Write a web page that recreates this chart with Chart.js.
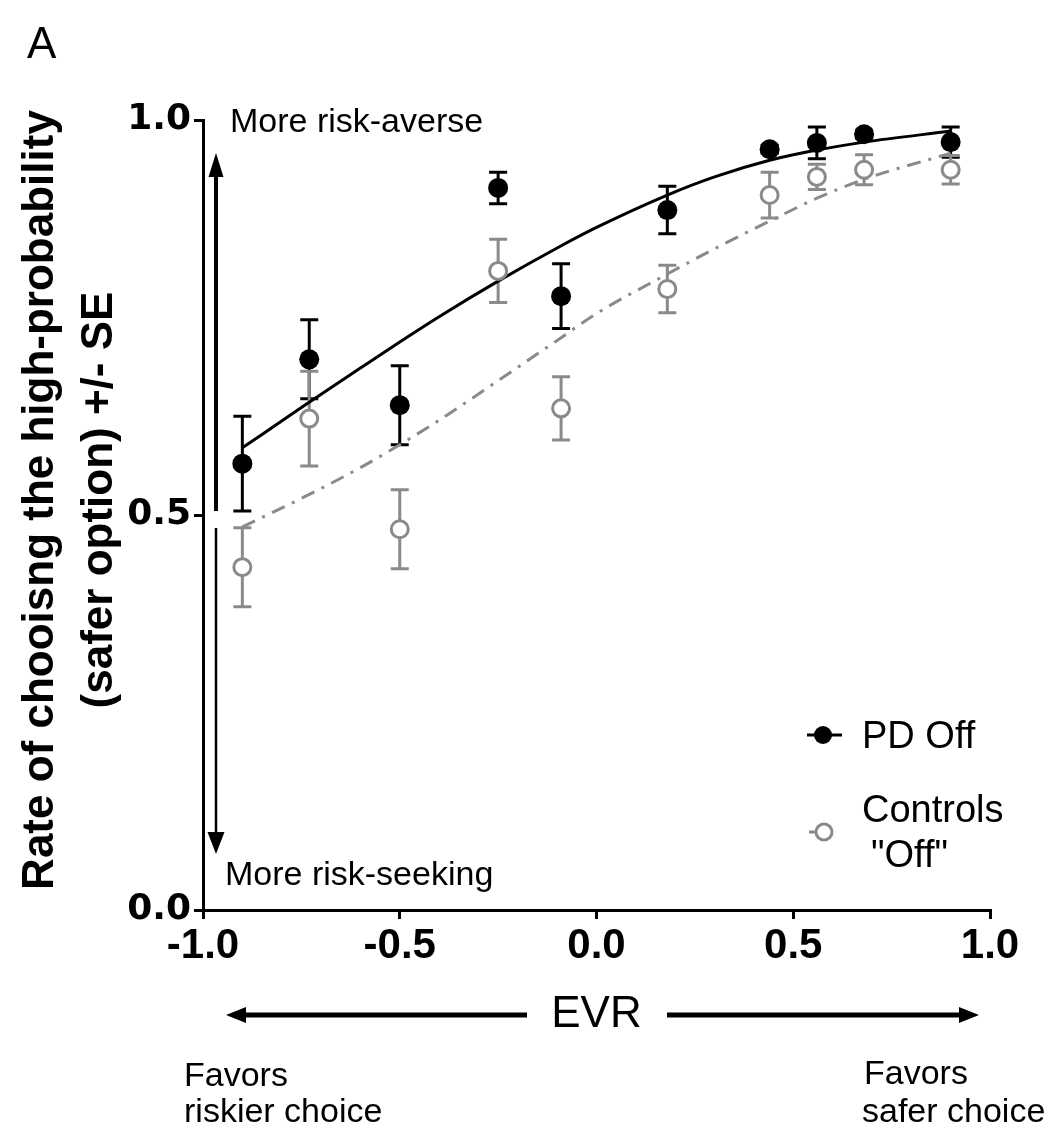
<!DOCTYPE html>
<html>
<head>
<meta charset="utf-8">
<title>EVR – rate of choosing the safer option</title>
<script src="https://cdn.jsdelivr.net/npm/chart.js@4.4.1/dist/chart.umd.min.js"></script>
<style>
  html, body { margin: 0; padding: 0; background: #fff; }
  #wrap { width: 1058px; height: 1126px; }
</style>
</head>
<body>
<div id="wrap"><canvas id="chart" width="1058" height="1126"></canvas></div>
<script>
/* ---- Data ---- */
const evr      = [-0.9, -0.73, -0.5, -0.25, -0.09, 0.18, 0.44, 0.56, 0.68, 0.9];
const pdMean   = [0.565, 0.697, 0.639, 0.914, 0.777, 0.886, 0.963, 0.971, 0.982, 0.972];
const pdSE     = [0.06, 0.05, 0.05, 0.02, 0.041, 0.03, 0.005, 0.02, 0.005, 0.019];
const ctrlMean = [0.434, 0.622, 0.482, 0.809, 0.635, 0.786, 0.905, 0.928, 0.937, 0.937];
const ctrlSE   = [0.05, 0.06, 0.05, 0.04, 0.04, 0.03, 0.029, 0.016, 0.019, 0.018];

/* fitted curves */
const fitX     = [-0.9, -0.75, -0.6, -0.5, -0.4, -0.25, -0.1, 0, 0.18, 0.3, 0.44, 0.56, 0.68, 0.9];
const pdFit    = [0.585, 0.636, 0.686, 0.719, 0.751, 0.796, 0.838, 0.864, 0.905, 0.928, 0.949, 0.962, 0.972, 0.986];
const ctrlFit  = [0.485, 0.521, 0.560, 0.589, 0.620, 0.670, 0.721, 0.755, 0.805, 0.837, 0.872, 0.901, 0.925, 0.958];

const xTicks   = [-1.0, -0.5, 0.0, 0.5, 1.0];
const yTicks   = [0.0, 0.5, 1.0];
const seriesNames = ["PD Off", "Controls \"Off\""];

(function () {
  "use strict";

  const BLACK = "#000";
  const GREY  = "#8a8a8a";
  const SANS  = "'Liberation Sans', Arial, sans-serif";

  const pts = (xs, ys) => xs.map((x, i) => ({ x: x, y: ys[i] }));

  /* ---- Error bars, drawn through the chart's own scales ---- */
  const errorBars = {
    id: "errorBars",
    beforeDatasetsDraw(chart) {
      const { ctx, scales: { x, y } } = chart;
      const sets = [
        { m: pdMean, se: pdSE, color: BLACK },
        { m: ctrlMean, se: ctrlSE, color: GREY }
      ];
      ctx.save();
      ctx.lineWidth = 3;
      sets.forEach(s => {
        ctx.strokeStyle = s.color;
        evr.forEach((v, i) => {
          const px = x.getPixelForValue(v);
          const top = y.getPixelForValue(s.m[i] + s.se[i]);
          const bot = y.getPixelForValue(s.m[i] - s.se[i]);
          ctx.beginPath();
          ctx.moveTo(px, top); ctx.lineTo(px, bot);
          ctx.moveTo(px - 9, top); ctx.lineTo(px + 9, top);
          ctx.moveTo(px - 9, bot); ctx.lineTo(px + 9, bot);
          ctx.stroke();
        });
      });
      ctx.restore();
    }
  };

  /* ---- Annotations: arrows, notes, legend, y title ---- */
  function arrowHead(ctx, x, y, dir, half, len) {
    ctx.beginPath();
    if (dir === "up")    { ctx.moveTo(x, y); ctx.lineTo(x - half, y + len); ctx.lineTo(x + half, y + len); }
    if (dir === "down")  { ctx.moveTo(x, y); ctx.lineTo(x - half, y - len); ctx.lineTo(x + half, y - len); }
    if (dir === "left")  { ctx.moveTo(x, y); ctx.lineTo(x + len, y - half); ctx.lineTo(x + len, y + half); }
    if (dir === "right") { ctx.moveTo(x, y); ctx.lineTo(x - len, y - half); ctx.lineTo(x - len, y + half); }
    ctx.closePath();
    ctx.fill();
  }

  function line(ctx, x1, y1, x2, y2, w) {
    ctx.lineWidth = w;
    ctx.beginPath(); ctx.moveTo(x1, y1); ctx.lineTo(x2, y2); ctx.stroke();
  }

  const annotations = {
    id: "annotations",
    afterDraw(chart) {
      const { ctx } = chart;
      ctx.save();
      ctx.fillStyle = BLACK;
      ctx.strokeStyle = BLACK;
      ctx.lineCap = "butt";

      // panel letter
      ctx.font = "44px " + SANS;
      ctx.textAlign = "left";
      ctx.textBaseline = "alphabetic";
      ctx.fillText("A", 27, 58);

      // y-axis title (two lines, rotated)
      ctx.save();
      ctx.translate(0, 500);
      ctx.rotate(-Math.PI / 2);
      ctx.font = "bold 44px " + SANS;
      ctx.textAlign = "center";
      ctx.fillText("Rate of chooisng the high-probability", 0, 53);
      ctx.fillText("(safer option) +/- SE", 0, 112);
      ctx.restore();

      // risk arrows along the y axis
      line(ctx, 216, 511, 216, 172, 4);
      arrowHead(ctx, 216, 153, "up", 7.5, 24);
      line(ctx, 216, 528, 216, 836, 2.5);
      arrowHead(ctx, 216, 854, "down", 8.5, 22);

      ctx.font = "34px " + SANS;
      ctx.textAlign = "left";
      ctx.fillText("More risk-averse", 230, 132);
      ctx.fillText("More risk-seeking", 225, 885);

      // EVR arrows
      line(ctx, 244, 1015, 527, 1015, 5);
      arrowHead(ctx, 226, 1015, "left", 8, 20);
      line(ctx, 667, 1015, 961, 1015, 5);
      arrowHead(ctx, 979, 1015, "right", 8, 20);

      ctx.font = "34px " + SANS;
      ctx.fillText("Favors", 184, 1086);
      ctx.fillText("riskier choice", 184, 1122);
      ctx.fillText("Favors", 864, 1084);
      ctx.fillText("safer choice", 862, 1122);

      // legend
      line(ctx, 807, 735, 842, 735, 3);
      ctx.beginPath(); ctx.arc(823, 735, 9, 0, Math.PI * 2); ctx.fill();
      ctx.font = "38px " + SANS;
      ctx.fillText(seriesNames[0], 862, 748);

      ctx.strokeStyle = GREY;
      line(ctx, 809, 832, 815, 832, 3);
      ctx.fillStyle = "#fff";
      ctx.lineWidth = 3;
      ctx.beginPath(); ctx.arc(824, 832, 8, 0, Math.PI * 2); ctx.fill(); ctx.stroke();
      ctx.fillStyle = BLACK;
      ctx.fillText("Controls", 862, 822);
      ctx.fillText("\"Off\"", 871, 867);

      ctx.restore();
    }
  };

  /* ---- Chart ---- */
  new Chart(document.getElementById("chart"), {
    type: "scatter",
    data: {
      datasets: [
        {
          label: seriesNames[0],
          data: pts(evr, pdMean),
          pointRadius: 10,
          pointHoverRadius: 10,
          backgroundColor: BLACK,
          borderColor: BLACK,
          borderWidth: 0,
          order: 1
        },
        {
          label: seriesNames[1],
          data: pts(evr, ctrlMean),
          pointRadius: 8.5,
          pointHoverRadius: 8.5,
          backgroundColor: "#fff",
          borderColor: GREY,
          borderWidth: 3,
          order: 1
        },
        {
          label: "PD fit",
          data: pts(fitX, pdFit),
          showLine: true,
          pointRadius: 0,
          borderColor: BLACK,
          borderWidth: 3,
          cubicInterpolationMode: "monotone",
          order: 2
        },
        {
          label: "Controls fit",
          data: pts(fitX, ctrlFit),
          showLine: true,
          pointRadius: 0,
          borderColor: GREY,
          borderWidth: 3,
          borderDash: [14, 8, 3, 8],
          cubicInterpolationMode: "monotone",
          order: 3
        }
      ]
    },
    options: {
      responsive: false,
      devicePixelRatio: 1,
      animation: false,
      layout: { padding: { left: 0, top: 120, right: 68, bottom: 0 } },
      plugins: { legend: { display: false }, tooltip: { enabled: false } },
      scales: {
        x: {
          type: "linear",
          min: -1, max: 1,
          afterFit(scale) { scale.height = 216; },
          afterBuildTicks(scale) { scale.ticks = xTicks.map(v => ({ value: v })); },
          ticks: {
            autoSkip: false,
            color: BLACK,
            padding: 2,
            font: { family: SANS, size: 42, weight: "bold" },
            callback: v => v.toFixed(1)
          },
          grid: { drawOnChartArea: false, drawTicks: true, tickLength: 9, color: BLACK, lineWidth: 3 },
          border: { display: true, color: BLACK, width: 3 },
          title: {
            display: true,
            text: "EVR",
            color: BLACK,
            font: { family: SANS, size: 44 },
            padding: { top: 0, bottom: 85 }
          }
        },
        y: {
          type: "linear",
          min: 0, max: 1,
          afterFit(scale) { scale.width = 203; },
          afterBuildTicks(scale) { scale.ticks = yTicks.map(v => ({ value: v })); },
          ticks: {
            autoSkip: false,
            color: BLACK,
            padding: 3,
            font: { family: "'DejaVu Sans', sans-serif", size: 36, weight: "bold" },
            callback: v => v.toFixed(1)
          },
          grid: { drawOnChartArea: false, drawTicks: true, tickLength: 9, color: BLACK, lineWidth: 3 },
          border: { display: true, color: BLACK, width: 3 }
        }
      }
    },
    plugins: [errorBars, annotations]
  });
})();
</script>
</body>
</html>
